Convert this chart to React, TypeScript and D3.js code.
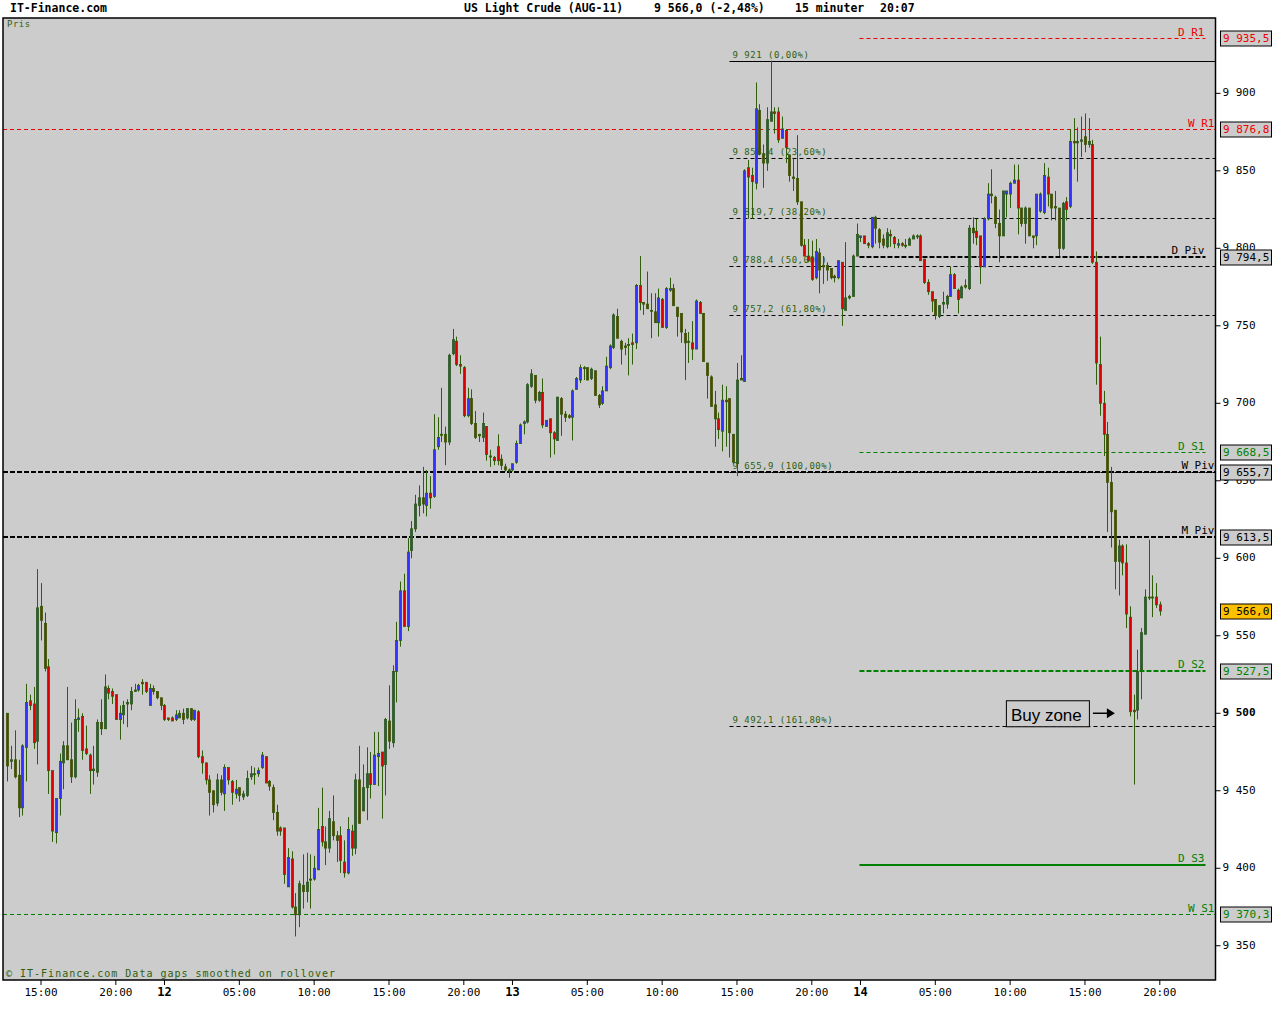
import * as d3 from "d3";

// [open, high, low, close] per 15 minute bar
type Bar = [number, number, number, number];

const day11: Bar[] = [
  [9500, 9500, 9456, 9466], [9469, 9479, 9464, 9470], [9470, 9489, 9458, 9459], [9460, 9470, 9433, 9439],
  [9439, 9480, 9434, 9479], [9478, 9519, 9456, 9507], [9508, 9512, 9502, 9505], [9506, 9517, 9477, 9481],
  [9482, 9593, 9467, 9568], [9569, 9584, 9547, 9560], [9558, 9565, 9527, 9529], [9530, 9535, 9448, 9463],
  [9463, 9463, 9417, 9424], [9423, 9445, 9416, 9445], [9445, 9474, 9434, 9469], [9468, 9482, 9451, 9479],
  [9479, 9517, 9470, 9470], [9470, 9494, 9455, 9459], [9459, 9509, 9458, 9496], [9496, 9503, 9488, 9497],
  [9498, 9500, 9470, 9476], [9477, 9492, 9473, 9474], [9473, 9474, 9448, 9463], [9463, 9479, 9454, 9464],
  [9462, 9496, 9459, 9494], [9494, 9509, 9486, 9490], [9490, 9525, 9490, 9517], [9516, 9518, 9509, 9513],
  [9514, 9516, 9506, 9511], [9512, 9512, 9496, 9496], [9496, 9505, 9483, 9500], [9499, 9508, 9493, 9505],
  [9506, 9509, 9491, 9507], [9506, 9517, 9502, 9514], [9514, 9519, 9514, 9515], [9515, 9519, 9514, 9518],
  [9520, 9522, 9512, 9519], [9520, 9520, 9513, 9514], [9505, 9519, 9505, 9516], [9516, 9518, 9512, 9514],
  [9514, 9514, 9509, 9510], [9510, 9510, 9502, 9505],
];

const day12: Bar[] = [
  [9505, 9506, 9495, 9496], [9497, 9497, 9495, 9496], [9497, 9498, 9495, 9495], [9496, 9502, 9495, 9499],
  [9497, 9502, 9497, 9500], [9500, 9503, 9493, 9496], [9497, 9503, 9496, 9503], [9503, 9503, 9495, 9496],
  [9496, 9502, 9495, 9502], [9501, 9502, 9471, 9472], [9472, 9476, 9461, 9468], [9468, 9468, 9454, 9457],
  [9457, 9460, 9434, 9449], [9450, 9450, 9436, 9441], [9442, 9461, 9440, 9457], [9457, 9460, 9447, 9449],
  [9448, 9467, 9437, 9465], [9465, 9465, 9454, 9457], [9456, 9457, 9441, 9449], [9448, 9457, 9445, 9451],
  [9452, 9452, 9443, 9447], [9446, 9450, 9444, 9448], [9447, 9463, 9446, 9458], [9459, 9466, 9457, 9461],
  [9461, 9465, 9454, 9461], [9461, 9465, 9459, 9463], [9465, 9475, 9464, 9473], [9472, 9472, 9455, 9455],
  [9456, 9457, 9450, 9453], [9452, 9454, 9431, 9436], [9436, 9441, 9421, 9424], [9426, 9427, 9421, 9424],
  [9426, 9426, 9390, 9396], [9388, 9413, 9388, 9407], [9406, 9411, 9374, 9375], [9375, 9384, 9356, 9370],
  [9370, 9392, 9362, 9390], [9389, 9409, 9374, 9385], [9385, 9410, 9378, 9391], [9393, 9409, 9374, 9393],
  [9393, 9408, 9392, 9400], [9399, 9439, 9399, 9425], [9427, 9452, 9414, 9417], [9417, 9427, 9402, 9413],
  [9413, 9437, 9410, 9432], [9430, 9447, 9418, 9421], [9421, 9424, 9404, 9418], [9421, 9427, 9397, 9405],
  [9404, 9418, 9394, 9397], [9397, 9433, 9396, 9425], [9424, 9428, 9408, 9413], [9413, 9461, 9409, 9457],
  [9457, 9479, 9429, 9429], [9437, 9467, 9437, 9452], [9452, 9478, 9431, 9461], [9461, 9475, 9445, 9454],
  [9454, 9488, 9454, 9473], [9472, 9488, 9453, 9474], [9475, 9475, 9432, 9466], [9467, 9497, 9447, 9496],
  [9495, 9518, 9477, 9482], [9481, 9531, 9478, 9527], [9527, 9559, 9507, 9547], [9547, 9585, 9543, 9579],
  [9579, 9590, 9556, 9556], [9556, 9613, 9553, 9604], [9605, 9624, 9600, 9619], [9619, 9641, 9617, 9635],
  [9634, 9647, 9627, 9639], [9639, 9659, 9629, 9635], [9634, 9657, 9627, 9642], [9642, 9653, 9632, 9639],
  [9640, 9693, 9639, 9670], [9672, 9691, 9670, 9678], [9680, 9710, 9675, 9680], [9680, 9685, 9660, 9675],
  [9675, 9732, 9673, 9731], [9732, 9748, 9731, 9741], [9740, 9743, 9724, 9725], [9725, 9731, 9719, 9724],
  [9723, 9724, 9691, 9692], [9692, 9710, 9691, 9703], [9703, 9709, 9686, 9687], [9687, 9695, 9677, 9678],
  [9680, 9680, 9675, 9679], [9678, 9694, 9675, 9687], [9685, 9685, 9663, 9667], [9666, 9670, 9659, 9666],
  [9665, 9666, 9660, 9663], [9672, 9680, 9660, 9663], [9664, 9667, 9657, 9660], [9659, 9661, 9656, 9657],
  [9657, 9658, 9652, 9657],
];

const day13: Bar[] = [
  [9657, 9661, 9656, 9661], [9662, 9676, 9661, 9674], [9674, 9687, 9674, 9686], [9687, 9689, 9680, 9688],
  [9688, 9713, 9687, 9712], [9711, 9722, 9710, 9719], [9718, 9718, 9700, 9702], [9702, 9708, 9701, 9707],
  [9707, 9716, 9684, 9686], [9685, 9689, 9685, 9689], [9690, 9690, 9665, 9681], [9681, 9682, 9667, 9677],
  [9676, 9704, 9676, 9704], [9703, 9704, 9679, 9693], [9693, 9695, 9688, 9691], [9692, 9693, 9690, 9691],
  [9691, 9709, 9676, 9708], [9709, 9717, 9709, 9716], [9715, 9725, 9713, 9723], [9723, 9724, 9715, 9723],
  [9723, 9723, 9715, 9715], [9716, 9723, 9715, 9722], [9721, 9721, 9705, 9705], [9705, 9706, 9697, 9699],
  [9700, 9711, 9699, 9708], [9708, 9730, 9708, 9724], [9723, 9738, 9722, 9737], [9736, 9758, 9735, 9757],
  [9756, 9761, 9742, 9742], [9740, 9741, 9725, 9735], [9737, 9739, 9731, 9736], [9738, 9742, 9718, 9738],
  [9739, 9745, 9725, 9738], [9739, 9777, 9735, 9776], [9776, 9795, 9760, 9765], [9765, 9765, 9757, 9764],
  [9764, 9785, 9761, 9761], [9760, 9771, 9742, 9760], [9759, 9771, 9752, 9752], [9752, 9774, 9743, 9768],
  [9767, 9768, 9749, 9749], [9749, 9775, 9748, 9774], [9773, 9781, 9772, 9774], [9774, 9777, 9763, 9763],
  [9762, 9762, 9743, 9756], [9758, 9758, 9739, 9746], [9745, 9748, 9715, 9739], [9740, 9746, 9726, 9740],
  [9739, 9753, 9728, 9735], [9735, 9767, 9735, 9766], [9765, 9766, 9758, 9758], [9758, 9758, 9727, 9727],
  [9726, 9726, 9703, 9718], [9717, 9718, 9698, 9698], [9699, 9708, 9672, 9690], [9690, 9694, 9677, 9683],
  [9682, 9712, 9669, 9702], [9702, 9711, 9672, 9701], [9703, 9703, 9665, 9681], [9680, 9680, 9661, 9662],
  [9661, 9726, 9653, 9715], [9716, 9731, 9715, 9715], [9714, 9851, 9714, 9850], [9852, 9857, 9819, 9846],
  [9847, 9852, 9819, 9843], [9842, 9907, 9838, 9890], [9889, 9893, 9860, 9861], [9861, 9867, 9839, 9855],
  [9855, 9891, 9850, 9883], [9882, 9921, 9882, 9888], [9888, 9891, 9874, 9887], [9888, 9891, 9868, 9870],
  [9871, 9885, 9871, 9877], [9876, 9877, 9855, 9865], [9860, 9860, 9843, 9847], [9846, 9858, 9837, 9845],
  [9845, 9873, 9828, 9830], [9830, 9830, 9801, 9802], [9802, 9806, 9795, 9795], [9795, 9806, 9791, 9792],
  [9794, 9805, 9779, 9780], [9781, 9806, 9780, 9798], [9797, 9800, 9771, 9786], [9789, 9795, 9777, 9788],
  [9789, 9791, 9779, 9786], [9787, 9787, 9780, 9781], [9782, 9783, 9778, 9781], [9781, 9792, 9780, 9792],
  [9791, 9791, 9750, 9761], [9760, 9804, 9760, 9768], [9768, 9770, 9767, 9769], [9769, 9796, 9769, 9795],
  [9795, 9816, 9795, 9809],
];

const day14: Bar[] = [
  [9807, 9808, 9804, 9808], [9808, 9808, 9803, 9803], [9803, 9804, 9800, 9802], [9801, 9820, 9800, 9820],
  [9820, 9821, 9803, 9813], [9812, 9813, 9800, 9804], [9806, 9809, 9800, 9802], [9801, 9813, 9800, 9810],
  [9809, 9812, 9801, 9808], [9807, 9808, 9800, 9803], [9802, 9806, 9800, 9803], [9803, 9804, 9801, 9802],
  [9802, 9806, 9800, 9802], [9802, 9807, 9802, 9806], [9806, 9809, 9806, 9808], [9808, 9809, 9806, 9808],
  [9808, 9809, 9792, 9792], [9793, 9793, 9777, 9778], [9778, 9780, 9770, 9772], [9772, 9772, 9759, 9766],
  [9767, 9767, 9754, 9757], [9756, 9763, 9755, 9763], [9764, 9772, 9758, 9765], [9764, 9770, 9761, 9769],
  [9769, 9788, 9769, 9783], [9783, 9784, 9774, 9774], [9773, 9774, 9758, 9767], [9768, 9776, 9768, 9775],
  [9776, 9780, 9774, 9775], [9774, 9815, 9773, 9813], [9813, 9820, 9803, 9810], [9811, 9819, 9802, 9807],
  [9808, 9808, 9777, 9788], [9788, 9820, 9788, 9819], [9819, 9842, 9818, 9835], [9835, 9851, 9829, 9834],
  [9833, 9834, 9813, 9816], [9816, 9825, 9791, 9808], [9808, 9837, 9808, 9837], [9835, 9837, 9820, 9837],
  [9835, 9843, 9826, 9842], [9842, 9854, 9842, 9844], [9844, 9854, 9809, 9826], [9826, 9826, 9814, 9816],
  [9816, 9827, 9803, 9826], [9826, 9826, 9808, 9808], [9808, 9808, 9800, 9807], [9808, 9835, 9802, 9835],
  [9824, 9836, 9823, 9835], [9823, 9855, 9822, 9847], [9846, 9852, 9827, 9835], [9835, 9835, 9818, 9826],
  [9827, 9837, 9818, 9826], [9826, 9826, 9795, 9800], [9800, 9830, 9799, 9829], [9830, 9833, 9818, 9825],
  [9827, 9877, 9826, 9869], [9869, 9884, 9851, 9868], [9868, 9878, 9843, 9869], [9869, 9885, 9859, 9870],
  [9872, 9887, 9862, 9867], [9867, 9884, 9865, 9869], [9867, 9870, 9790, 9791], [9791, 9798, 9712, 9726],
  [9725, 9743, 9692, 9700], [9700, 9708, 9666, 9680], [9680, 9688, 9617, 9649], [9649, 9659, 9607, 9630],
  [9631, 9631, 9580, 9598], [9598, 9612, 9576, 9608], [9608, 9609, 9589, 9597], [9597, 9609, 9555, 9564],
  [9562, 9569, 9498, 9501], [9502, 9512, 9454, 9501], [9502, 9541, 9496, 9527], [9528, 9555, 9509, 9552],
  [9551, 9580, 9551, 9575], [9575, 9612, 9573, 9575], [9575, 9589, 9562, 9575], [9575, 9584, 9568, 9570],
  [9570, 9572, 9563, 9566],
];

// trading sessions (the 23:15-00:00 gap is left out)
const sessionDays = [11, 12, 13, 14];
const sessionStarts = ["12:45", "00:00", "00:00", "00:00"];
const sessionBars = [day11, day12, day13, day14];

// pivot levels
const pivotNames = ["D R1", "W R1", "D Piv", "D S1", "W Piv", "M Piv", "D S2", "D S3", "W S1"];
const pivotValues = [9935.5, 9876.8, 9794.5, 9668.5, 9655.7, 9613.5, 9527.5, 9402, 9370.3];

// fibonacci retracement
const fibValues = [9921, 9858.4, 9819.7, 9788.4, 9757.2, 9655.9, 9492.1];
const fibPercents = ["0,00", "23,60", "38,20", "50,00", "61,80", "100,00", "161,80"];
const fibStartBar = 193;

const priceTicks = d3.range(9350, 9901, 50);

const title = "US Light Crude (AUG-11)";
const lastText = "9 566,0 (-2,48%)";
const periodText = "15 minuter";
const clockText = "20:07";

const RED = "#ee0000";
const GREEN = "#008000";
const OLIVE = "#2f5f0a";
const MONO = "'DejaVu Sans Mono', monospace";

const pivotStyle: Record<string, { color: string; width: number; dash?: string; box: boolean }> = {
  "D R1": { color: RED, width: 1, dash: "4,3", box: true },
  "W R1": { color: RED, width: 1, dash: "4,3", box: true },
  "D Piv": { color: "#000", width: 2, dash: "5,2", box: true },
  "D S1": { color: GREEN, width: 1, dash: "4,3", box: true },
  "W Piv": { color: "#000", width: 2, dash: "5,2", box: true },
  "M Piv": { color: "#000", width: 2, dash: "5,2", box: true },
  "D S2": { color: GREEN, width: 2, dash: "5,2", box: true },
  "D S3": { color: GREEN, width: 2, box: false },
  "W S1": { color: GREEN, width: 1, dash: "4,3", box: true },
};

function fmt(v: number, dec: number) {
  const [i, f] = v.toFixed(dec).split(".");
  const int = i.replace(/\B(?=(\d{3})+(?!\d))/g, " ");
  return f ? `${int},${f}` : int;
}

const pad = (n: number) => String(n).padStart(2, "0");

export default function App() {
  const width = 1280;
  const height = 1024;
  const left = 3;
  const right = 1215.5;
  const top = 18;
  const bottom = 980;

  // flatten bars with their times
  const bars: { bar: Bar; day: number; min: number; first: boolean }[] = [];
  sessionBars.forEach((list, s) => {
    const [h, m] = sessionStarts[s].split(":").map(Number);
    list.forEach((bar, i) => {
      bars.push({ bar, day: sessionDays[s], min: h * 60 + m + i * 15, first: i === 0 && h === 0 && m === 0 });
    });
  });
  const n = bars.length;
  const dayStart = bars.findIndex((b) => b.day === sessionDays[sessionDays.length - 1]);

  const x = d3.scaleLinear().domain([9, n - 1]).range([41, 1159.8]);
  const y = d3.scaleLinear().domain([9327.9, 9948.6]).range([bottom, top]);

  const lastClose = day14[day14.length - 1][3];

  const timeTicks = bars
    .map((b, i) => ({ b, i }))
    .filter(({ b }) => b.first || (b.min % 300 === 0 && b.min !== 0))
    .map(({ b, i }) => ({
      i,
      label: b.first ? String(b.day) : `${pad(Math.floor(b.min / 60))}:00`,
      bold: b.first,
    }));

  const buyIdx = 296;
  const buyPrice = 9500;
  const bx = x(buyIdx);
  const by = y(buyPrice);

  return (
    <svg
      width={width}
      height={height}
      style={{ position: "absolute", left: 0, top: 0, background: "#fff" }}
      fontFamily={MONO}
    >
      <rect x={0} y={0} width={width} height={height} fill="#fff" />

      {/* header */}
      <g fontSize={11.5} fontWeight="bold" fill="#000">
        <text x={10} y={12}>IT-Finance.com</text>
        <text x={464} y={12}>{title}</text>
        <text x={654} y={12}>{lastText}</text>
        <text x={795} y={12}>{periodText}</text>
        <text x={880} y={12}>{clockText}</text>
      </g>

      <rect x={left} y={top} width={right - left} height={bottom - top} fill="#cccccc" />

      <text x={7} y={27} fontSize={9} letterSpacing={0.5} fill={OLIVE}>Pris</text>

      {/* fibonacci lines */}
      {fibValues.map((v, k) => (
        <g key={`fib${k}`}>
          <line
            x1={x(fibStartBar)}
            x2={right}
            y1={Math.round(y(v)) + 0.5}
            y2={Math.round(y(v)) + 0.5}
            stroke="#000"
            strokeWidth={1}
            strokeDasharray={k === 0 ? undefined : "4,3"}
          />
          <text x={x(fibStartBar) + 3} y={y(v) - 3} fontSize={9} letterSpacing={0.5} fill={OLIVE}>
            {`${fmt(v, Number.isInteger(v) ? 0 : 1)} (${fibPercents[k]}%)`}
          </text>
        </g>
      ))}

      {/* pivot lines */}
      {pivotNames.map((name, k) => {
        const st = pivotStyle[name];
        const daily = name.startsWith("D");
        const x1 = daily ? x(dayStart) - 1 : left;
        const x2 = daily ? right - 10 : right;
        const yy = Math.round(y(pivotValues[k])) + (st.width === 1 ? 0.5 : 0);
        return (
          <g key={name}>
            <line x1={x1} x2={x2} y1={yy} y2={yy} stroke={st.color} strokeWidth={st.width} strokeDasharray={st.dash} />
            <text x={x2 - 1} y={yy - 3} textAnchor="end" fontSize={11} fill={st.color}>{name}</text>
          </g>
        );
      })}

      {/* candles */}
      {bars.map(({ bar }, i) => {
        const [o, h, l, c] = bar;
        const cx = Math.round(x(i)) + 0.5;
        const yTop = y(Math.max(o, c));
        const yBot = y(Math.min(o, c));
        const fill = c > o ? "#3333ff" : c < o ? "#dd0000" : OLIVE;
        return (
          <g key={i}>
            <line x1={cx} x2={cx} y1={y(h)} y2={y(l)} stroke={OLIVE} strokeWidth={1} />
            <rect
              x={cx - 1.1}
              y={yTop}
              width={2.2}
              height={Math.max(1, yBot - yTop)}
              fill={fill}
              stroke={OLIVE}
              strokeWidth={0.8}
            />
          </g>
        );
      })}

      {/* buy zone note */}
      <g>
        <rect x={bx - 108.5} y={by - 12.5} width={83} height={26} fill="#cccccc" stroke="#000" strokeWidth={1} />
        <text x={bx - 104} y={by + 8} fontFamily="'Liberation Sans', Arial, sans-serif" fontSize={17} fill="#000">
          Buy zone
        </text>
        <line x1={bx - 22} x2={bx - 6} y1={by} y2={by} stroke="#000" strokeWidth={1.5} />
        <path d={`M${bx},${by} L${bx - 8},${by - 5} L${bx - 8},${by + 5} Z`} fill="#000" />
      </g>

      <text x={6} y={977} fontSize={10} letterSpacing={1} fill={OLIVE}>
        © IT-Finance.com Data gaps smoothed on rollover
      </text>

      {/* frame */}
      <rect x={left} y={top} width={right - left} height={bottom - top} fill="none" stroke="#000" strokeWidth={1.5} />

      {/* price axis */}
      {priceTicks.map((p) => (
        <g key={p}>
          <line x1={right} x2={right + 5} y1={y(p)} y2={y(p)} stroke="#000" />
          <text
            x={right + 7}
            y={y(p)}
            dominantBaseline="middle"
            fontSize={11}
            fontWeight={p === 9500 ? "bold" : "normal"}
            fill="#000"
          >
            {fmt(p, 0)}
          </text>
        </g>
      ))}

      {/* level boxes */}
      {pivotNames.map((name, k) =>
        pivotStyle[name].box ? (
          <g key={`box${name}`}>
            <rect
              x={1220.5}
              y={Math.round(y(pivotValues[k])) - 7}
              width={51}
              height={15}
              fill="#cccccc"
              stroke="#000"
            />
            <text
              x={1223}
              y={Math.round(y(pivotValues[k])) + 0.5}
              dominantBaseline="middle"
              fontSize={11}
              fill={pivotStyle[name].color}
            >
              {fmt(pivotValues[k], 1)}
            </text>
          </g>
        ) : null
      )}
      <g>
        <rect x={1220.5} y={Math.round(y(lastClose)) - 7} width={51} height={15} fill="#ffc000" stroke="#000" />
        <text x={1223} y={Math.round(y(lastClose)) + 0.5} dominantBaseline="middle" fontSize={11} fill="#000">
          {fmt(lastClose, 1)}
        </text>
      </g>

      {/* time axis */}
      {timeTicks.map((t) => (
        <g key={`t${t.i}`}>
          <line x1={x(t.i)} x2={x(t.i)} y1={bottom} y2={bottom + 5} stroke="#000" />
          <text
            x={x(t.i)}
            y={996}
            textAnchor="middle"
            fontSize={t.bold ? 12 : 11}
            fontWeight={t.bold ? "bold" : "normal"}
            fill="#000"
          >
            {t.label}
          </text>
        </g>
      ))}
    </svg>
  );
}
